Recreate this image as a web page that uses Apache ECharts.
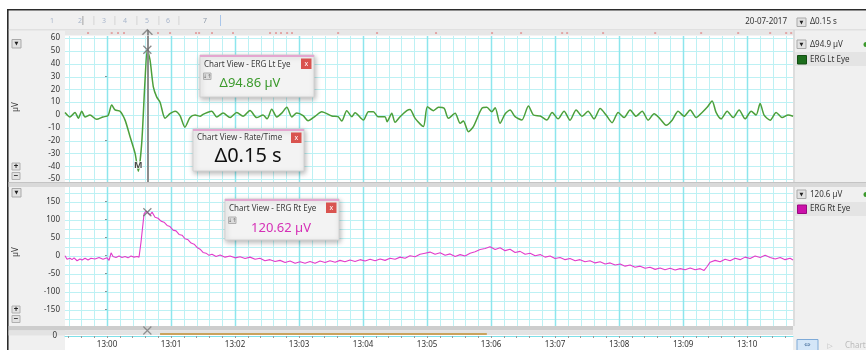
<!DOCTYPE html>
<html>
<head>
<meta charset="utf-8">
<title>ERG Lt Eye / ERG Rt Eye</title>
<script src="https://cdn.jsdelivr.net/npm/echarts@6.0.0/dist/echarts.min.js"></script>
<style>
  html, body { margin: 0; padding: 0; background: #fff; }
  #chart { width: 866px; height: 350px; }
</style>
</head>
<body>
<div id="chart"></div>
<script>
// Time axis: seconds relative to 13:00:00
const timeStart = -39.4;
const timeEnd = 643;
const minuteTicks = [0, 60, 120, 180, 240, 300, 360, 420, 480, 540, 600];
const minuteLabels = ['13:00', '13:01', '13:02', '13:03', '13:04', '13:05', '13:06', '13:07', '13:08', '13:09', '13:10'];
const ltEyeTicks = [-50, -40, -30, -20, -10, 0, 10, 20, 30, 40, 50, 60];
const rtEyeTicks = [-150, -100, -50, 0, 50, 100, 150];
const rtEyeGridLines = [-175, -150, -125, -100, -75, -50, -25, 0, 25, 50, 75, 100, 125, 150, 175];
const cursorTime = 37.8;
const selectionRange = [49.7, 356];
const eventTimes = [-17.8, 4.4, 10.3, 15.9, 47.8, 59.1, 83.4, 86.3, 98.4, 118.1, 152.8, 158.4, 163.1,
  168.8, 173.4, 216.6, 253.1, 308.4, 360.9, 388.1, 426.6, 431.3, 465, 513.8, 556.9, 591.6, 621.6, 636.6, 641.3];
const recordDate = '20-07-2017';
const rateTimeReadout = 'Δ0.15 s';

// ERG Lt Eye, µV
const ltEye = [
  [-39.4, 2], [-34.7, -1.5], [-30, 2], [-26.9, -2.5], [-23.7, 3], [-20.6, -1.5], [-16, 0], [-9.7, -3.4],
  [-3.8, -1.5], [0.9, -0.5], [4.4, 7.8], [7.5, 4], [12.2, 3], [16.9, -4], [21.6, -17], [26.3, -30],
  [29.3, -43.86], [32.5, -22], [35.6, 27], [37.8, 51], [40.3, 43], [43.4, 22], [46.6, 14], [49.7, 10],
  [54.4, -2.5], [59, 1], [63.8, 3], [68.4, -0.5], [73, -9.5], [77.8, -2], [82.5, 0], [87.2, -1],
  [90, 0.5], [94, 2], [98.2, 3], [102.8, -1.5], [108.8, 1.5], [115.3, -2], [121.6, 2], [127.5, -1],
  [134, 3.5], [140.3, -2], [146.3, 0], [150, -3], [154.4, 4.5], [159.1, -1.5], [163.8, 1.5], [168.5, 6],
  [173.2, -1.5], [177.8, 1.5], [183.8, -0.5], [188.4, -4.5], [195, -1], [201.3, 2.6], [210.7, -0.8],
  [216.6, -1.3], [220, -4.7], [224.7, 3.4], [229.4, -1.3], [232.5, 1.8], [240.3, -3.9], [245, 2.6],
  [249.7, 2.6], [254, -1.3], [260.6, -1.3], [262.5, -5.2], [266.9, 1.3], [270, -5.7], [274.7, -1.3],
  [281, 3.4], [284, 4.4], [288.8, -2.6], [296.5, -9], [300.3, 6.5], [306, 3.4], [310.6, 6], [316, 5.2],
  [320, -2.6], [326.3, 1.3], [331, -6.5], [334, -4.7], [338.7, -13], [343.4, -9], [351.3, 5.2], [356, 6],
  [360.7, 2.6], [363.8, 5.7], [368.4, -6.5], [373.1, 0.8], [377.8, 3.9], [382.5, -1.3], [388.8, -3.9],
  [395, 7], [399.7, 0], [406, -0.8], [412.2, -3.9], [417.2, 2], [422.8, -3], [428.4, 3], [434, -4],
  [439.7, 4], [445.3, -1], [450.9, 3], [456.6, -3], [462.2, 5], [467.8, 0], [473.4, -6], [479.1, 2],
  [484.7, -2], [490.3, 4], [495.9, -1], [501.6, 3], [507.2, -4], [512.8, 1], [518.4, -3], [524.1, -8],
  [529.7, -4], [535.3, 3], [540.9, -1], [546.6, 4], [552.2, -2], [557.8, 2], [562.5, 6], [567.2, 11],
  [570.9, 2], [575.6, -3], [581.3, 3], [586.9, -2], [592.5, 4], [598.1, -3], [603.8, 3], [608.4, 0],
  [612.2, 9], [615.9, 0], [621.6, -4], [627.2, 2], [632.8, -2], [638.4, 0], [643.1, -1]
];

// ERG Rt Eye, µV
const rtEye = [
  [-39.4, 0], [-37.5, -10], [-34.7, -7], [-32.8, -11], [-30.9, -6], [-28.1, -14], [-25.3, -9], [-23.4, -12],
  [-20.6, -7], [-17.8, -12], [-15, -7], [-11.3, -9], [-7.5, -5], [-3.8, -10], [0, -6], [1.9, -13], [3.8, 8],
  [5.6, -2], [8.4, -5], [11.3, -1], [14, -5], [16.9, -2], [19.7, -6], [22.5, -1], [25.3, -4], [28.1, -2],
  [30, -4], [31.9, 39], [34.7, 116], [36.6, 124], [37.8, 120.62], [40.3, 113], [42.2, 121], [45, 107],
  [47.8, 104], [50.6, 96], [53.4, 93], [56.3, 84], [59, 81], [61.9, 71], [64.7, 69], [67.5, 59], [70.3, 57],
  [73.1, 47], [76, 44], [78.8, 35], [81.6, 32], [84.4, 23], [87.2, 18], [90, 9], [92.8, 7], [95.6, 1],
  [98.4, 4], [102.2, -2], [106, 2], [110.6, -4], [115.3, -1], [120, -6], [124.7, -3], [129.4, -8], [134, -4],
  [138.8, -10], [143.4, -7], [148, -14], [152.8, -11], [157.5, -16], [162.2, -13], [166.9, -19], [171.6, -15],
  [176.3, -21], [181, -17], [185.6, -21], [190.3, -16], [195, -21], [199.7, -15], [204.4, -19], [209, -14],
  [213.8, -18], [218.4, -13], [223, -17], [227.8, -12], [232.5, -16], [237.2, -11], [241.9, -15], [246.6, -10],
  [251.3, -14], [256, -9], [260.6, -13], [265.3, -7], [270, -10], [274.7, -4], [279.4, -7], [284, 0],
  [288.8, -3], [293.4, 4], [298.1, 7], [302.8, 10], [307.5, 4], [312.2, 8], [316.9, 1], [321.6, 5],
  [326.3, -2], [331, 3], [335.6, -1], [340.3, 7], [345, 11], [349.7, 17], [354.4, 20], [359, 25], [363.8, 17],
  [368.4, 22], [373.1, 14], [377.8, 18], [382.5, 9], [387.2, 12], [391.9, 4], [396.6, 7], [401.3, 0], [406, 3],
  [410.6, -4], [415.3, -1], [420, -8], [424.7, -5], [429.4, -11], [434, -8], [438.8, -14], [443.4, -11],
  [448, -17], [452.8, -14], [457.5, -20], [462.2, -17], [466.9, -23], [471.6, -20], [476.3, -26], [481, -23],
  [485.6, -29], [490.3, -26], [495, -32], [499.7, -29], [504.4, -35], [509, -32], [513.8, -38], [518.4, -34],
  [523, -39], [527.8, -35], [532.5, -40], [537.2, -36], [541.9, -39], [546.6, -34], [551.3, -39], [556, -36],
  [559.7, -41], [562.5, -30], [565.3, -18], [570, -13], [574.7, -17], [579.4, -10], [584, -14], [588.8, -7],
  [593.4, -11], [598.1, -4], [602.8, -8], [607.5, -1], [612.2, -5], [616.9, 1], [621.6, -5], [626.3, -9],
  [631, -5], [635.6, -11], [640.3, -7], [643, -12]
];

// Derived cursor readouts
const ltValues = ltEye.map(p => p[1]);
const ltPeak = ltEye.find(p => p[1] === Math.max(...ltValues));
const ltTrough = ltEye.find(p => p[1] === Math.min(...ltValues));
const ltDelta = ltPeak[1] - ltTrough[1];
const rtAtCursor = rtEye.find(p => p[0] === cursorTime);

// Minor vertical grid every 12 s between the minute lines
const minorGrid = [];
for (let t = -36; t <= 636; t += 12) if (t % 60 !== 0) minorGrid.push(t);

const FONT = "'Noto Sans', 'DejaVu Sans', sans-serif";
const MINOR = '#bdf1f4';
const MAJOR = '#8de6ed';
const PLOT_L = 65, PLOT_R = 73;

function rect(x, y, w, h, fill, stroke, z) {
  return { type: 'rect', silent: true, z: z, shape: { x: x, y: y, width: w, height: h },
    style: { fill: fill, stroke: stroke || null, lineWidth: stroke ? 1 : 0 } };
}
function txt(x, y, s, font, color, align, z, rot) {
  const e = { type: 'text', silent: true, z: z, x: x, y: y,
    style: { text: s, font: font, fill: color, align: align || 'left', verticalAlign: 'middle' } };
  if (rot) e.rotation = rot;
  return e;
}
function dropBtn(x, y, z) {
  return [rect(x, y, 9, 8.5, '#e2e2e2', '#a9a9a9', z), txt(x + 4.5, y + 4.5, '▼', '5px ' + FONT, '#222', 'center', z + 1)];
}
function chartViewBox(b) {
  const els = [
    { type: 'rect', silent: true, z: 100, shape: { x: b.x, y: b.y, width: b.w, height: b.h },
      style: { fill: '#f3f3f3', stroke: '#d2d2d2', lineWidth: 1, shadowBlur: 5, shadowColor: 'rgba(0,0,0,0.28)', shadowOffsetX: 1, shadowOffsetY: 2 } },
    rect(b.x, b.y, b.w, 2, '#e4a6d0', null, 101),
    txt(b.x + 4, b.y + b.ty, b.title, '8px ' + FONT, '#3a3a3a', 'left', 101),
    rect(b.x + b.w - 13, b.y + 3.5, 10.5, 10.5, '#d9534f', null, 101),
    txt(b.x + b.w - 7.75, b.y + 8.5, 'x', '7px ' + FONT, '#fff', 'center', 102),
    txt(b.vx, b.vy, b.value, b.vfont, b.vcolor, 'center', 101)
  ];
  if (b.icon) {
    els.push(rect(b.x + 3.5, b.y + 18, 7.5, 6.5, '#dcdcdc', '#b0b0b0', 101));
    els.push(txt(b.x + 7.25, b.y + 21.3, '↓↑', '5px ' + FONT, '#666', 'center', 102));
  }
  return els;
}

const graphics = [].concat(
  // window frame and toolbar
  rect(8, 10.5, 858, 19.5, '#f0f0f0', null, -5),
  rect(7, 9, 859, 1.6, '#2b2b2b', null, -4),
  rect(7, 9, 1.6, 341, '#2b2b2b', null, -4),
  rect(8.6, 29.5, 857.4, 0.8, '#cfcfcf', null, -4),
  // left and right side panels
  rect(8.6, 30, 56.4, 320, '#f0f0f0', null, -5),
  rect(793, 30, 73, 320, '#f0f0f0', null, -5),
  rect(793.5, 30, 1, 296, '#c9c9c9', null, -4),
  // toolbar track numbers
  txt(52, 20.5, '1', '7px ' + FONT, '#a8b6cc', 'center', -3),
  txt(80, 20.5, '2', '7px ' + FONT, '#a8b6cc', 'center', -3),
  rect(82.5, 16, 0.8, 9, '#8f8f8f', null, -3),
  rect(93.5, 16, 0.8, 9, '#cdcdcd', null, -3),
  txt(104, 20.5, '3', '7px ' + FONT, '#a8b6cc', 'center', -3),
  rect(114.5, 16, 0.8, 9, '#cdcdcd', null, -3),
  txt(125, 20.5, '4', '7px ' + FONT, '#a8b6cc', 'center', -3),
  rect(136.5, 16, 0.8, 9, '#cdcdcd', null, -3),
  txt(147, 20.5, '5', '7px ' + FONT, '#a8b6cc', 'center', -3),
  rect(158.5, 16, 0.8, 9, '#cdcdcd', null, -3),
  txt(168, 20.5, '6', '7px ' + FONT, '#a8b6cc', 'center', -3),
  rect(178.5, 16, 0.8, 9, '#cdcdcd', null, -3),
  txt(205, 20.5, '7', '7px ' + FONT, '#8c98a8', 'center', -3),
  rect(220, 15, 1, 11, '#a9c6ea', null, -3),
  // date and time readout
  txt(787, 22, recordDate, '8px ' + FONT, '#333', 'right', -3),
  dropBtn(797, 18, -3),
  txt(810, 22, rateTimeReadout, '8px ' + FONT, '#333', 'left', -3),
  // left controls, top channel
  dropBtn(12, 39.5, -3),
  txt(15.5, 107, 'µV', '8px ' + FONT, '#333', 'center', -3, Math.PI / 2),
  rect(12, 163, 8, 7, '#e2e2e2', '#b0b0b0', -3),
  txt(16, 166.5, '+', 'bold 8px ' + FONT, '#222', 'center', -2),
  rect(12, 172.5, 8, 7, '#e2e2e2', '#b0b0b0', -3),
  txt(16, 176, '−', 'bold 8px ' + FONT, '#222', 'center', -2),
  // left controls, bottom channel
  dropBtn(12, 188.5, -3),
  txt(15.5, 252, 'µV', '8px ' + FONT, '#333', 'center', -3, Math.PI / 2),
  rect(12, 306, 8, 7, '#e2e2e2', '#b0b0b0', -3),
  txt(16, 309.5, '+', 'bold 8px ' + FONT, '#222', 'center', -2),
  rect(12, 315.5, 8, 7, '#e2e2e2', '#b0b0b0', -3),
  txt(16, 319, '−', 'bold 8px ' + FONT, '#222', 'center', -2),
  // right channel headers
  dropBtn(797, 40, -3),
  txt(810, 44.5, 'Δ' + ltDelta.toFixed(1) + ' µV', '8px ' + FONT, '#333', 'left', -3),
  { type: 'circle', silent: true, z: -3, shape: { cx: 866, cy: 44.5, r: 2.5 }, style: { fill: '#3c9a2c' } },
  rect(795, 52, 71, 14, '#e4e4e4', null, -3),
  rect(797.5, 55.5, 9, 8.5, '#1d6e1d', '#134d13', -2),
  txt(810, 59.5, 'ERG Lt Eye', '8px ' + FONT, '#333', 'left', -2),
  dropBtn(797, 190, -3),
  txt(810, 194.5, rtAtCursor[1].toFixed(1) + ' µV', '8px ' + FONT, '#333', 'left', -3),
  { type: 'circle', silent: true, z: -3, shape: { cx: 866, cy: 194.5, r: 2.5 }, style: { fill: '#3c9a2c' } },
  rect(795, 202, 71, 14, '#e4e4e4', null, -3),
  rect(797.5, 205, 9, 8.5, '#cc10aa', '#99087f', -2),
  txt(810, 209, 'ERG Rt Eye', '8px ' + FONT, '#333', 'left', -2),
  // channel separator
  rect(8.6, 182, 857.4, 5, '#d9d9d9', null, 50),
  rect(8.6, 182, 857.4, 0.8, '#bdbdbd', null, 51),
  // scroll strip
  rect(8.6, 326, 784.4, 4.5, '#cdcdcd', null, -2),
  rect(8.6, 330.5, 784.4, 5, '#e3e3e3', null, -2),
  txt(57, 336, '0', '8px ' + FONT, '#333', 'right', -1),
  // bottom-right buttons
  rect(797, 339.5, 21, 11, '#d4e6f8', '#7eaad8', -1),
  txt(807.5, 345, '⇔', '8px ' + FONT, '#5a7fa8', 'center', 0),
  txt(830, 346, '▷', '7px ' + FONT, '#bbb', 'center', 0),
  txt(845, 346, 'Chart', '8px ' + FONT, '#bbb', 'left', 0),
  // floating chart-view readouts
  chartViewBox({ x: 200, y: 55, w: 114, h: 42, ty: 10, title: 'Chart View - ERG Lt Eye',
    value: 'Δ' + ltDelta.toFixed(2) + ' µV', vx: 250, vy: 83, vfont: '13px ' + FONT, vcolor: '#3b9a2c', icon: true }),
  chartViewBox({ x: 193, y: 129, w: 111, h: 42, ty: 9, title: 'Chart View - Rate/Time',
    value: rateTimeReadout, vx: 248, vy: 156, vfont: '20px ' + FONT, vcolor: '#111', icon: false }),
  chartViewBox({ x: 225, y: 199, w: 114, h: 41, ty: 10, title: 'Chart View - ERG Rt Eye',
    value: rtAtCursor[1].toFixed(2) + ' µV', vx: 281, vy: 228, vfont: '13px ' + FONT, vcolor: '#d530b6', icon: true })
);

// Grid lines drawn as custom series through the axes' own scales
function vLines(xi, yi, values, color, width) {
  return {
    type: 'custom', xAxisIndex: xi, yAxisIndex: yi, z: 1, silent: true,
    data: values.map(v => [v, 0]), encode: { x: 0, y: 1 },
    renderItem: function (params, api) {
      const cs = params.coordSys;
      const x = Math.round(api.coord([api.value(0), 0])[0]) + 0.5;
      return { type: 'line', silent: true, shape: { x1: x, y1: cs.y, x2: x, y2: cs.y + cs.height },
        style: { stroke: color, lineWidth: width } };
    }
  };
}
function hLines(xi, yi, values, color) {
  return {
    type: 'custom', xAxisIndex: xi, yAxisIndex: yi, z: 1, silent: true,
    data: values.map(v => [0, v]), encode: { x: 0, y: 1 },
    renderItem: function (params, api) {
      const cs = params.coordSys;
      const y = Math.round(api.coord([0, api.value(1)])[1]) + 0.5;
      return { type: 'line', silent: true, shape: { x1: cs.x, y1: y, x2: cs.x + cs.width, y2: y },
        style: { stroke: color, lineWidth: 1 } };
    }
  };
}

function timeAxis(gridIndex) {
  return {
    type: 'value', gridIndex: gridIndex, min: timeStart, max: timeEnd,
    axisLine: { show: false }, axisLabel: { show: false }, axisTick: { show: false },
    splitLine: { show: false }, minorSplitLine: { show: false }
  };
}
const crossPath = 'path://M0,0L10,10M10,0L0,10';

const option = {
  animation: false,
  backgroundColor: '#ffffff',
  textStyle: { fontFamily: FONT },
  graphic: { elements: graphics },
  grid: [
    { left: PLOT_L, right: PLOT_R, top: 36, height: 146, show: true, backgroundColor: '#fff', borderWidth: 0 },
    { left: PLOT_L, right: PLOT_R, top: 187, height: 139, show: true, backgroundColor: '#fff', borderWidth: 0 },
    { left: PLOT_L, right: PLOT_R, top: 335, height: 2, show: true, backgroundColor: '#fff', borderWidth: 0 },
    { left: PLOT_L, right: PLOT_R, top: 30, height: 5.5, show: true, backgroundColor: '#e7e7e7', borderWidth: 0 },
    { left: PLOT_L, right: PLOT_R, top: 326, height: 9, show: false }
  ],
  xAxis: [
    timeAxis(0),
    timeAxis(1),
    {
      type: 'value', gridIndex: 2, min: timeStart, max: timeEnd, position: 'bottom',
      axisLine: { show: true, lineStyle: { color: '#7fe0e8', width: 1 } },
      axisTick: { show: true, length: 2, customValues: minorGrid.concat(minuteTicks), lineStyle: { color: '#9a9a9a' } },
      axisLabel: { show: true, customValues: minuteTicks, margin: 4, fontSize: 8, color: '#333', fontFamily: FONT,
        formatter: v => minuteLabels[minuteTicks.indexOf(v)] || '' },
      splitLine: { show: false }
    },
    timeAxis(3),
    timeAxis(4)
  ],
  yAxis: [
    {
      type: 'value', gridIndex: 0, min: -52.3, max: 61.7,
      axisLine: { show: false }, splitLine: { show: false },
      axisTick: { show: true, length: 2, customValues: ltEyeTicks, lineStyle: { color: '#8a8a8a' } },
      axisLabel: { customValues: ltEyeTicks, margin: 5, fontSize: 8, color: '#333', fontFamily: FONT }
    },
    {
      type: 'value', gridIndex: 1, min: -195.3, max: 190.8,
      axisLine: { show: false }, splitLine: { show: false },
      axisTick: { show: true, length: 2, customValues: rtEyeTicks, lineStyle: { color: '#8a8a8a' } },
      axisLabel: { customValues: rtEyeTicks, margin: 5, fontSize: 8, color: '#333', fontFamily: FONT }
    },
    { type: 'value', gridIndex: 2, min: -1, max: 1, show: false, splitLine: { show: false } },
    { type: 'value', gridIndex: 3, min: 0, max: 1, show: false, splitLine: { show: false } },
    { type: 'value', gridIndex: 4, min: 0, max: 1, show: false, splitLine: { show: false } }
  ],
  series: [
    vLines(0, 0, minorGrid, MINOR, 1),
    hLines(0, 0, ltEyeTicks, MINOR),
    vLines(0, 0, minuteTicks, MAJOR, 1.5),
    vLines(1, 1, minorGrid, MINOR, 1),
    hLines(1, 1, rtEyeGridLines, MINOR),
    vLines(1, 1, minuteTicks, MAJOR, 1.5),
    {
      name: 'ERG Lt Eye', type: 'line', xAxisIndex: 0, yAxisIndex: 0, data: ltEye,
      showSymbol: false, symbol: 'none', smooth: 0.25, z: 3,
      lineStyle: { color: '#4ca03b', width: 1.5 },
      markLine: {
        silent: true, symbol: 'none', label: { show: false }, animation: false,
        lineStyle: { color: '#8d8d8d', width: 2, type: 'solid' },
        data: [{ xAxis: cursorTime }]
      }
    },
    {
      name: 'ERG Rt Eye', type: 'line', xAxisIndex: 1, yAxisIndex: 1, data: rtEye,
      showSymbol: false, symbol: 'none', z: 3,
      lineStyle: { color: '#e23ccb', width: 1.1 }
    },
    {
      name: 'Lt peak', type: 'scatter', xAxisIndex: 0, yAxisIndex: 0, data: [ltPeak], z: 5,
      symbol: crossPath, symbolSize: 8,
      itemStyle: { color: 'rgba(0,0,0,0)', borderColor: '#6a6a6a', borderWidth: 1.2 }
    },
    {
      name: 'Lt trough', type: 'scatter', xAxisIndex: 0, yAxisIndex: 0, data: [ltTrough], z: 5,
      symbolSize: 1, itemStyle: { color: 'rgba(0,0,0,0)' },
      label: { show: true, position: 'inside', offset: [0, -6], formatter: 'M', fontSize: 9,
        fontWeight: 'bold', color: '#1a1a1a', textBorderColor: '#fff', textBorderWidth: 1.5 }
    },
    {
      name: 'Rt cursor', type: 'scatter', xAxisIndex: 1, yAxisIndex: 1, data: [rtAtCursor], z: 5,
      symbol: crossPath, symbolSize: 8,
      itemStyle: { color: 'rgba(0,0,0,0)', borderColor: '#6a6a6a', borderWidth: 1.2 }
    },
    {
      name: 'Events', type: 'scatter', xAxisIndex: 3, yAxisIndex: 3, z: 4,
      data: eventTimes.map(t => [t, 0.45]), symbol: 'rect', symbolSize: [2, 1.5],
      itemStyle: { color: '#e07a7a' },
      markLine: {
        silent: true, symbol: 'none', label: { show: false }, animation: false,
        lineStyle: { color: '#8d8d8d', width: 2, type: 'solid' },
        data: [{ xAxis: cursorTime }]
      }
    },
    {
      name: 'Cursor handle', type: 'scatter', xAxisIndex: 3, yAxisIndex: 3, z: 6,
      data: [[cursorTime, 0.6]], symbol: 'path://M0,8L6,0L12,8', symbolSize: [10, 5],
      itemStyle: { color: 'rgba(0,0,0,0)', borderColor: '#777', borderWidth: 1.2 }
    },
    {
      name: 'Selection', type: 'line', xAxisIndex: 4, yAxisIndex: 4, z: 4,
      data: [[selectionRange[0], 0.1], [selectionRange[1], 0.1]], symbol: 'none',
      lineStyle: { color: '#c9a35e', width: 2 }
    },
    {
      name: 'Strip cursor', type: 'scatter', xAxisIndex: 4, yAxisIndex: 4, z: 5,
      data: [[cursorTime, 0.5]], symbol: crossPath, symbolSize: 8,
      itemStyle: { color: 'rgba(0,0,0,0)', borderColor: '#7a7a7a', borderWidth: 1.2 }
    }
  ]
};

const chart = echarts.init(document.getElementById('chart'), null, { renderer: 'canvas' });
chart.setOption(option);
</script>
</body>
</html>
